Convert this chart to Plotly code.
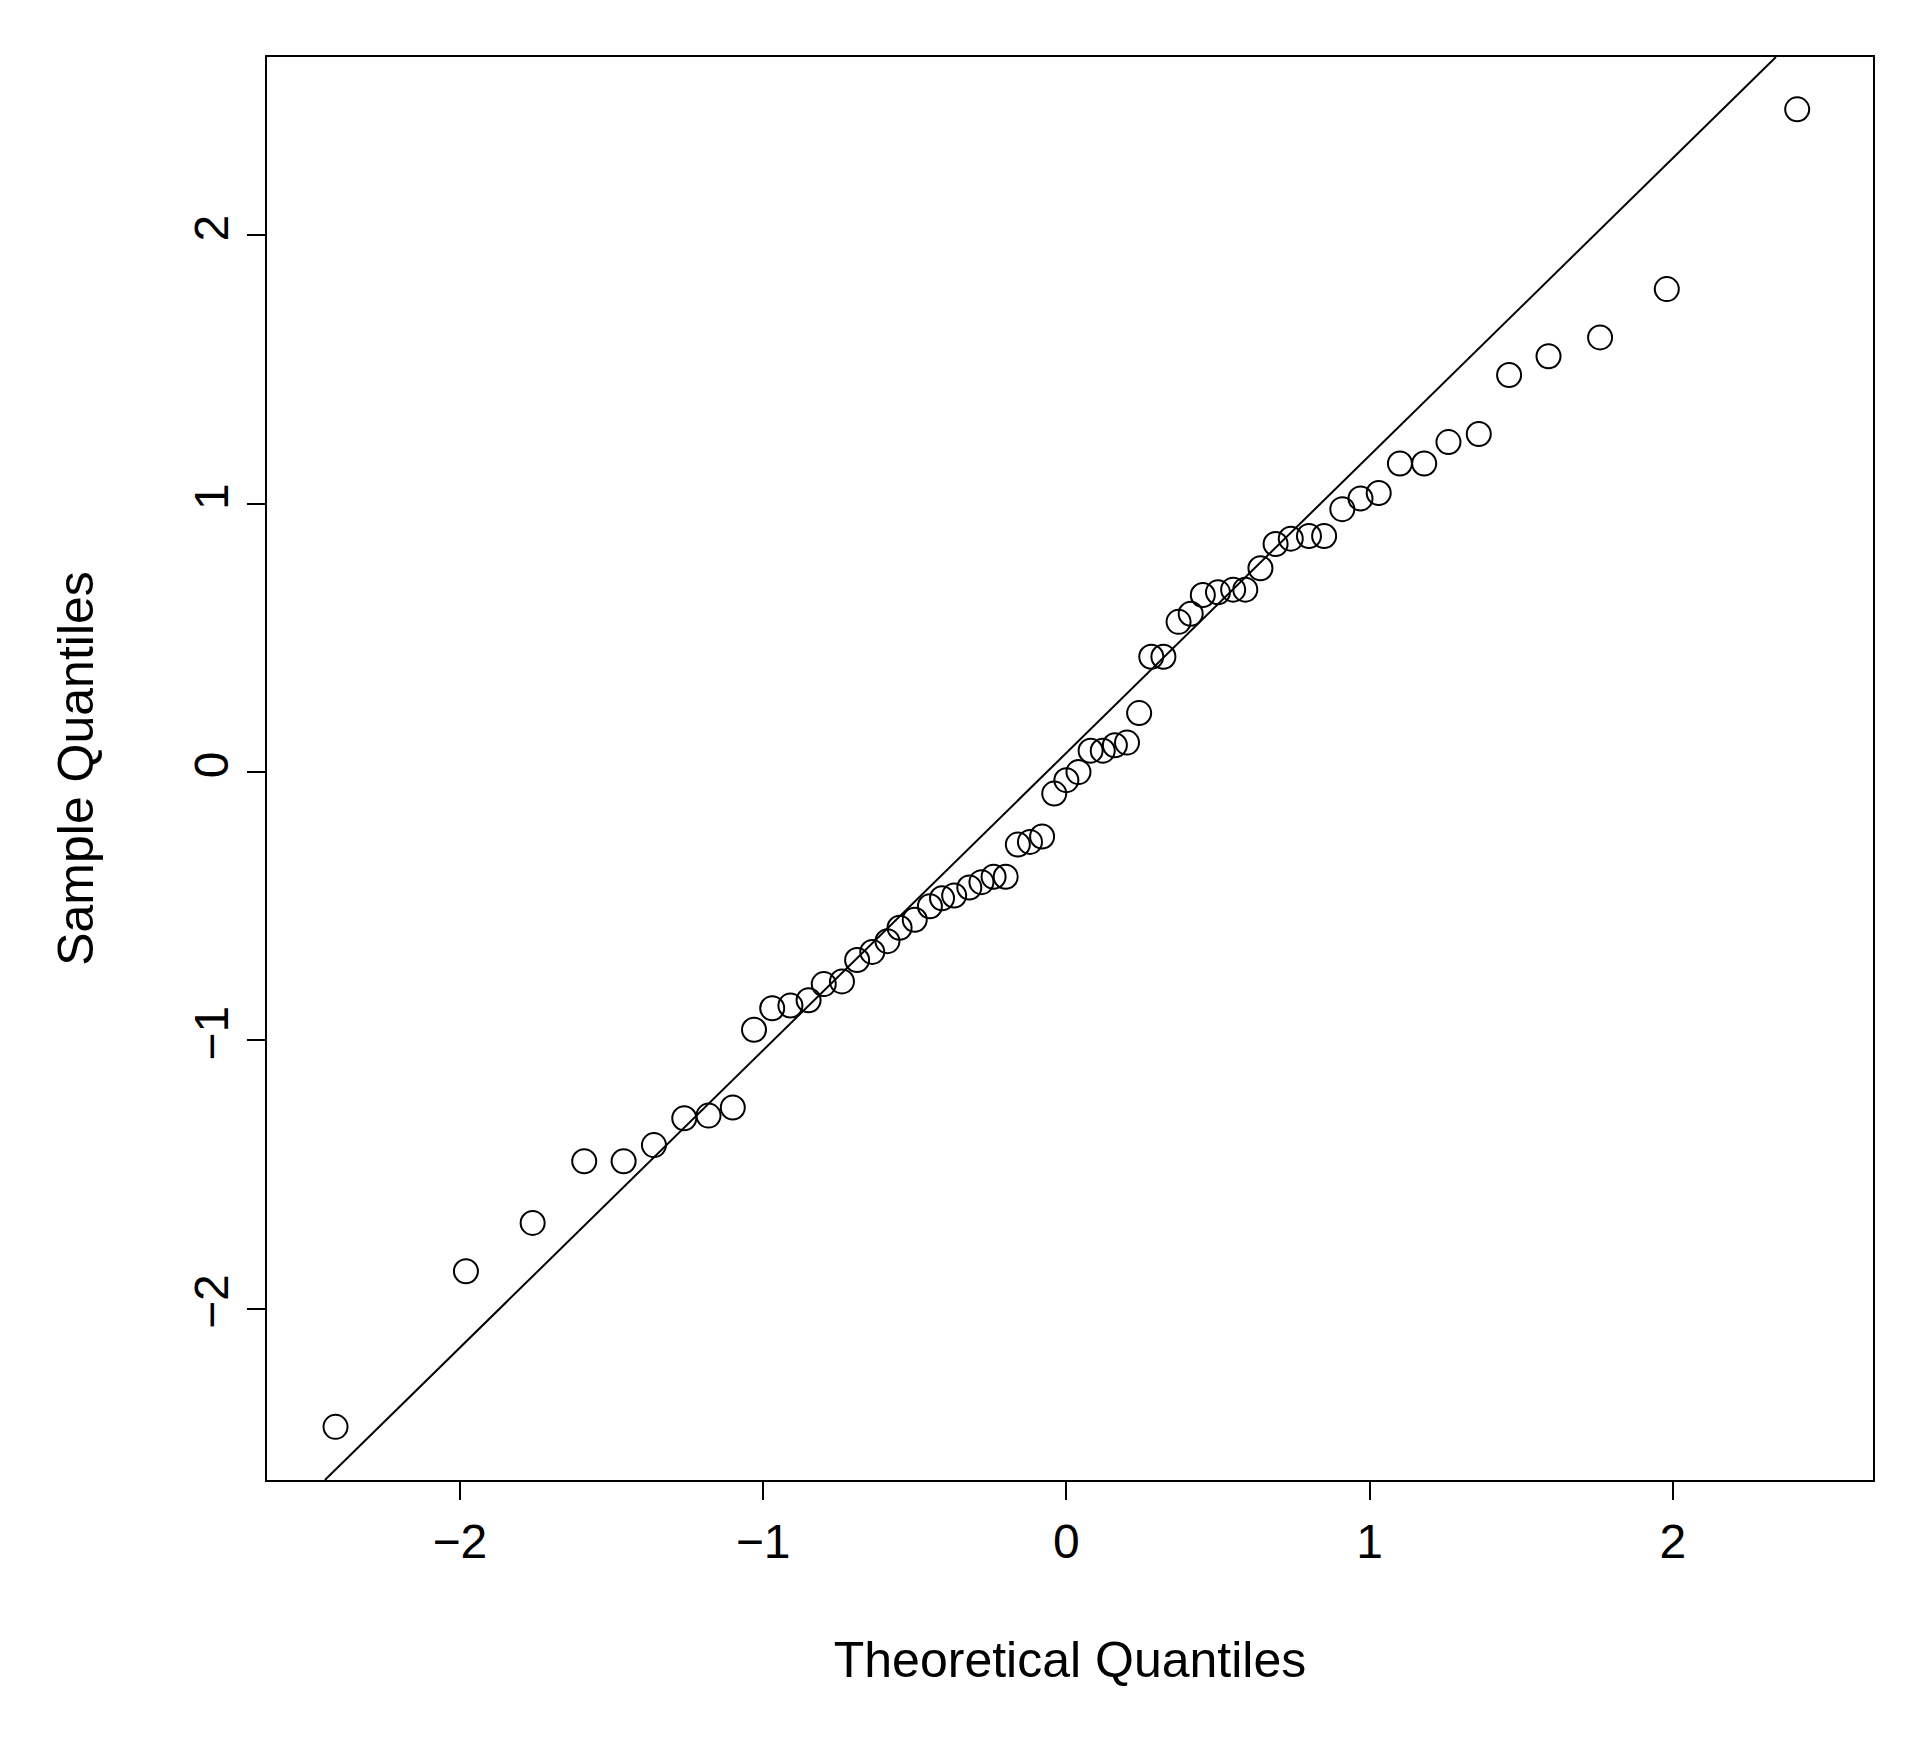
import plotly.graph_objects as go

theoretical = [-2.41,-1.98,-1.76,-1.59,-1.46,-1.36,-1.26,-1.18,-1.10,-1.03,-0.97,-0.91,-0.85,-0.80,-0.74,-0.69,-0.64,-0.59,-0.55,-0.50,-0.45,-0.41,-0.37,-0.32,-0.28,-0.24,-0.20,-0.16,-0.12,-0.08,-0.04,0.0,0.04,0.08,0.12,0.16,0.20,0.24,0.28,0.32,0.37,0.41,0.45,0.50,0.55,0.59,0.64,0.69,0.74,0.80,0.85,0.91,0.97,1.03,1.10,1.18,1.26,1.36,1.46,1.59,1.76,1.98,2.41]
sample = [-2.44,-1.86,-1.68,-1.45,-1.45,-1.39,-1.29,-1.28,-1.25,-0.96,-0.88,-0.87,-0.85,-0.79,-0.78,-0.70,-0.67,-0.63,-0.58,-0.55,-0.50,-0.47,-0.46,-0.43,-0.41,-0.39,-0.39,-0.27,-0.26,-0.24,-0.08,-0.03,0.00,0.08,0.08,0.10,0.11,0.22,0.43,0.43,0.56,0.59,0.66,0.67,0.68,0.68,0.76,0.85,0.87,0.88,0.88,0.98,1.02,1.04,1.15,1.15,1.23,1.26,1.48,1.55,1.62,1.80,2.47]
line_x = [-2.445, 2.34]
line_y = [-2.638, 2.665]
ticks = [-2, -1, 0, 1, 2]
tick_text = ["\u22122", "\u22121", "0", "1", "2"]

fig = go.Figure()
fig.add_trace(go.Scatter(x=line_x, y=line_y, mode="lines", line=dict(color="black", width=2), showlegend=False))
fig.add_trace(go.Scatter(x=theoretical, y=sample, mode="markers",
                         marker=dict(symbol="circle-open", size=24, color="black", line=dict(width=2)),
                         showlegend=False))
axis_common = dict(showgrid=False, zeroline=False, showline=True, mirror=True, linecolor="black", linewidth=2,
                   ticks="outside", ticklen=18, tickwidth=2, tickcolor="black",
                   tickvals=ticks, ticktext=tick_text, tickfont=dict(size=48, color="black"))
fig.update_xaxes(range=[-2.636, 2.66], title=dict(text="Theoretical Quantiles", font=dict(size=50, color="black"), standoff=75), **axis_common)
fig.update_yaxes(range=[-2.638, 2.665], tickangle=-90, title=dict(text="Sample Quantiles", font=dict(size=50, color="black"), standoff=75), **axis_common)
fig.update_layout(width=1928, height=1748, plot_bgcolor="white", paper_bgcolor="white",
                  margin=dict(l=259, r=63, t=49, b=276),
                  font=dict(family="Liberation Sans, Arial, sans-serif", color="black"))
fig.write_html("out.html")
